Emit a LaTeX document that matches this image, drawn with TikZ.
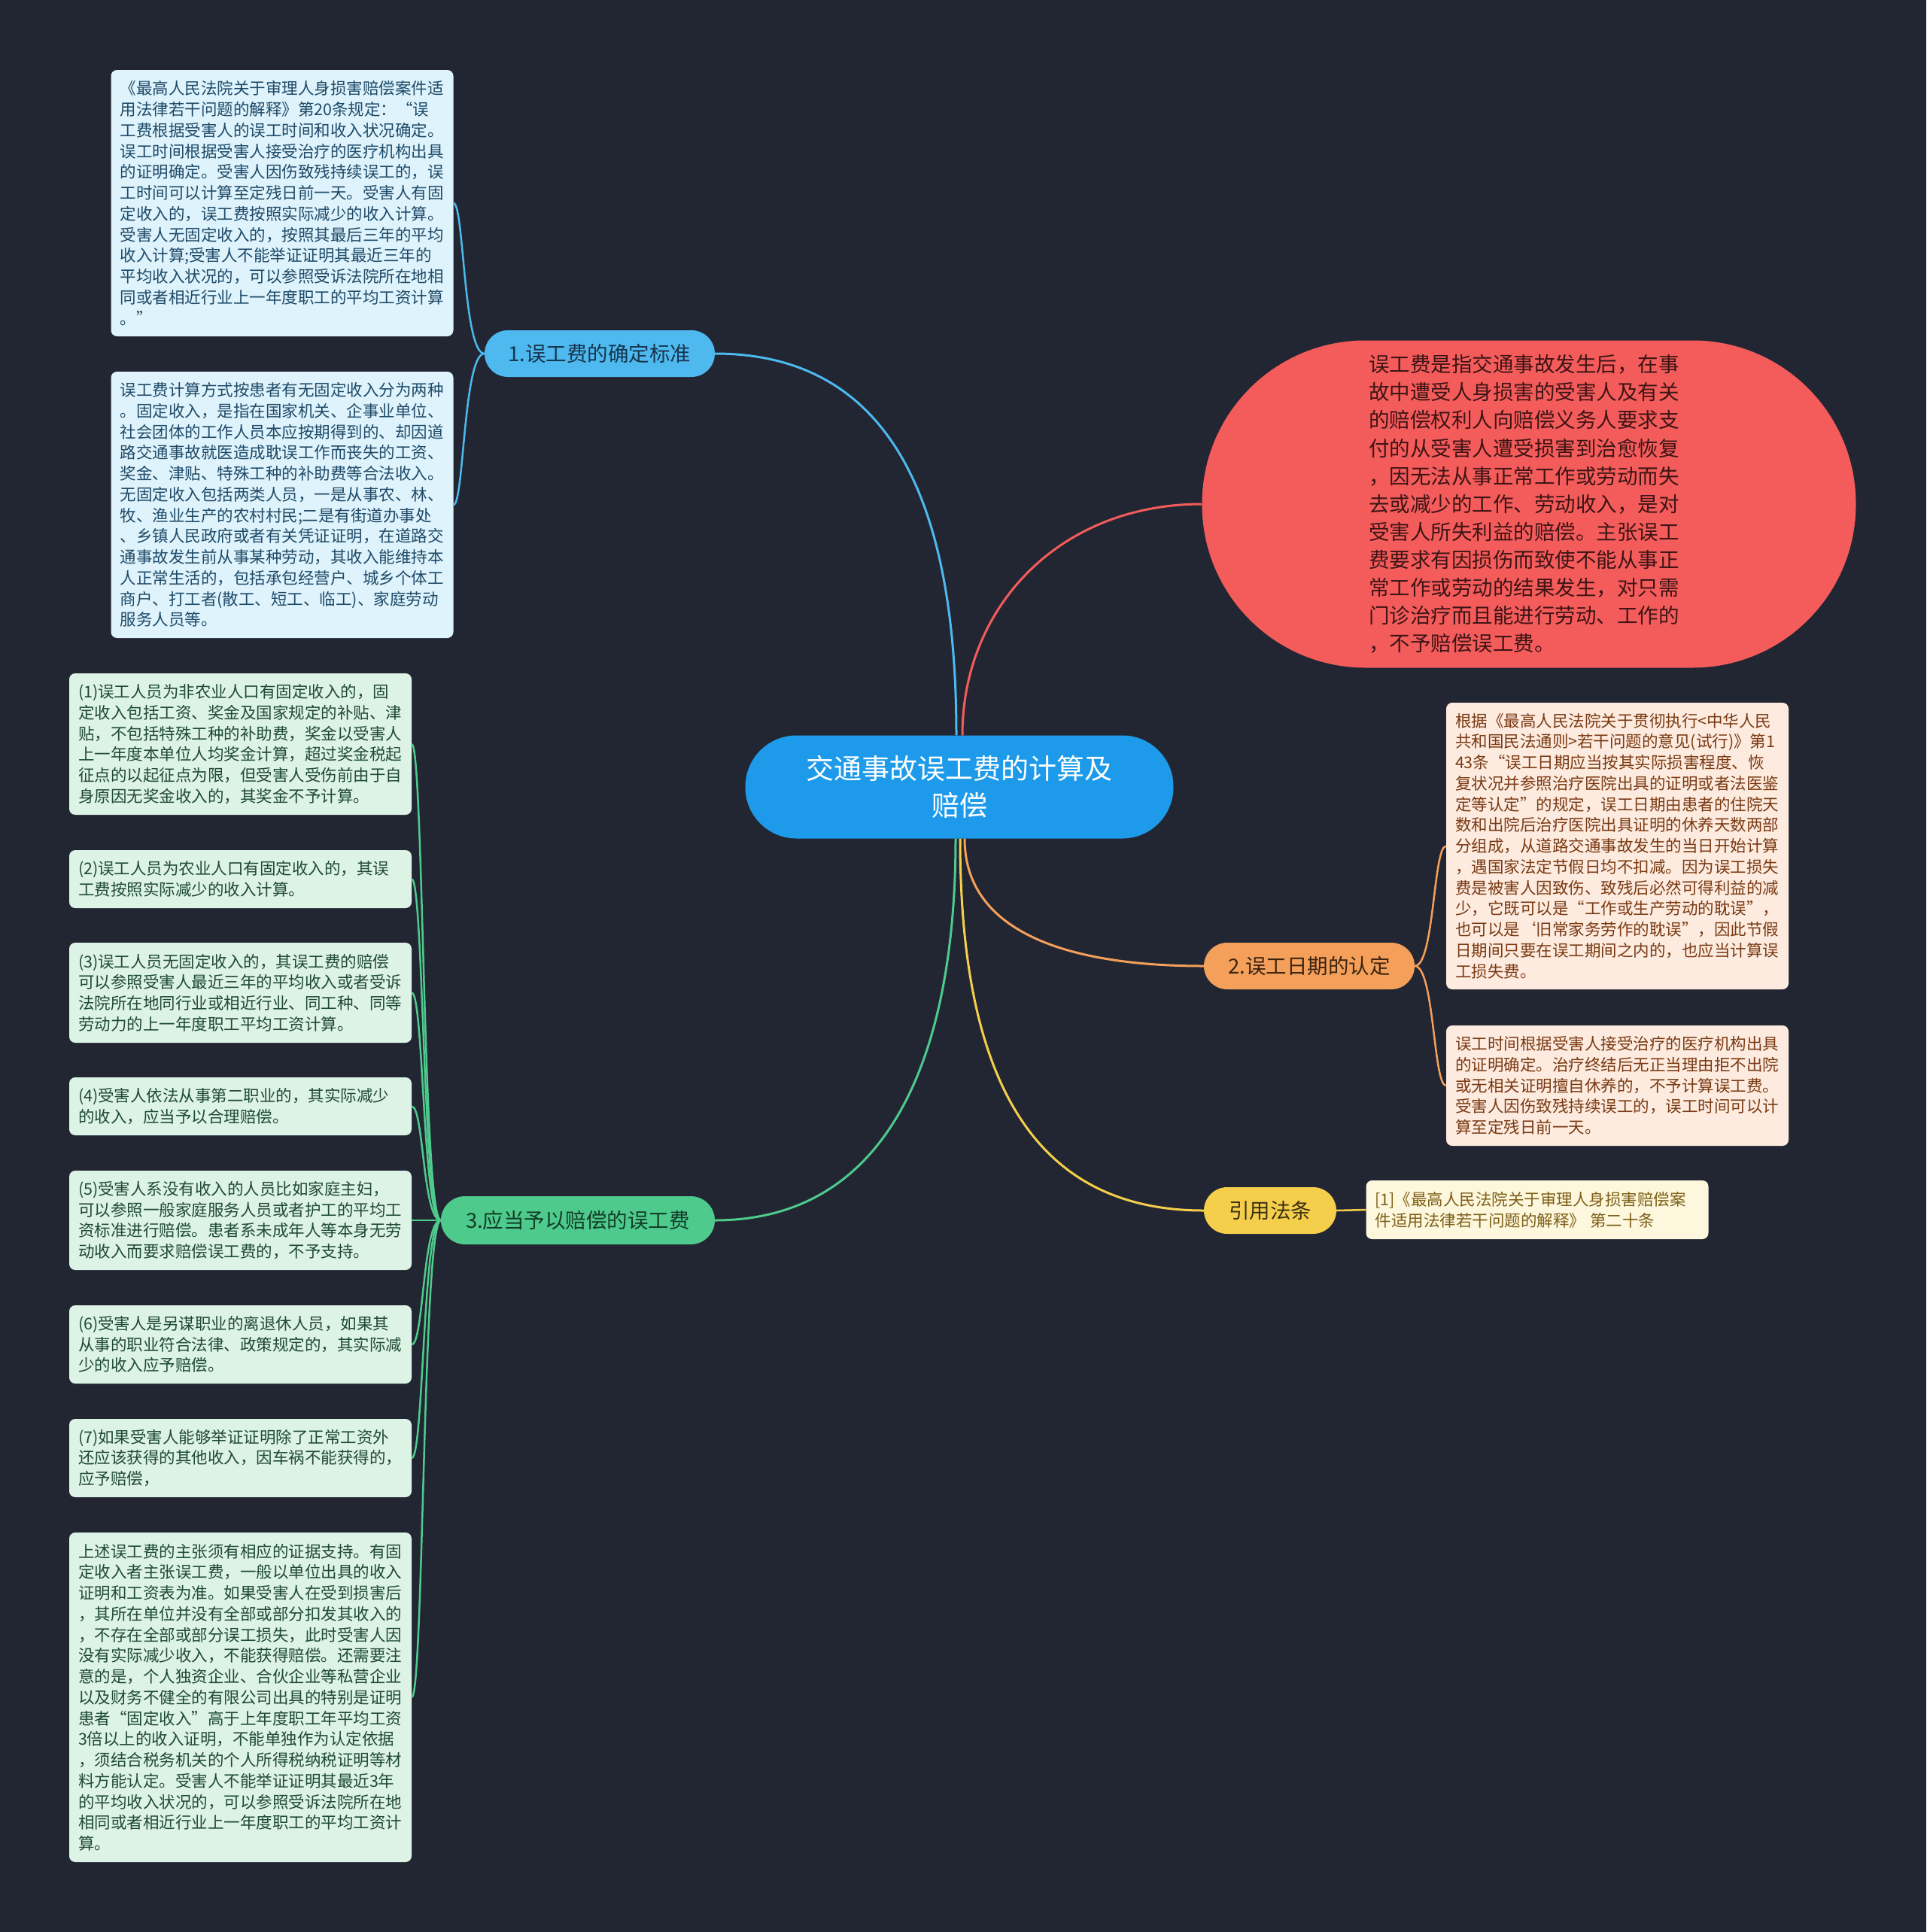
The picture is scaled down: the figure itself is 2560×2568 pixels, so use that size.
\documentclass[tikz,border=0pt]{standalone}
\usepackage{fontspec}
\setmainfont{Noto Sans CJK SC}
\definecolor{bgcol}{HTML}{222632}
\definecolor{ccenter}{HTML}{1D9BEA}
\definecolor{cblue}{HTML}{4DB9EE}
\definecolor{cred}{HTML}{F45C5C}
\definecolor{corange}{HTML}{F4A05A}
\definecolor{cyellow}{HTML}{F5CF4B}
\definecolor{cgreen}{HTML}{4ECA8C}
\definecolor{bbfill}{HTML}{DEF3FC}
\definecolor{bbtext}{HTML}{1E4A68}
\definecolor{gbfill}{HTML}{DDF3E6}
\definecolor{gbtext}{HTML}{1F4A33}
\definecolor{obfill}{HTML}{FDEBE0}
\definecolor{obtext}{HTML}{7A3A12}
\definecolor{ybfill}{HTML}{FDF7DE}
\definecolor{ybtext}{HTML}{7D5F16}
\definecolor{redtext}{HTML}{3E1414}
\definecolor{pbtext}{HTML}{17354F}
\definecolor{pgtext}{HTML}{123D28}
\definecolor{potext}{HTML}{3B2410}
\definecolor{pytext}{HTML}{3B3010}
\tikzset{
  box/.style={rounded corners=8pt, align=left, text width=431pt, inner xsep=12pt, inner ysep=0pt,
    font=\fontsize{21.5pt}{27.75pt}\selectfont, anchor=center},
  bluebox/.style={box, fill=bbfill, text=bbtext},
  greenbox/.style={box, fill=gbfill, text=gbtext},
  orangebox/.style={box, fill=obfill, text=obtext},
  yellowbox/.style={box, fill=ybfill, text=ybtext},
  pill/.style={rounded corners=31pt, inner sep=0pt, minimum height=62pt, align=center,
    font=\fontsize{27.5pt}{33pt}\selectfont},
  mainconn/.style={line width=3pt},
  subconn/.style={line width=2.5pt},
}
\begin{document}
\begin{tikzpicture}[x=1pt,y=-1pt]
\useasboundingbox (0,0) rectangle (2560,2568);
\fill[bgcol] (0,0) rectangle (2560,2568);

% center
\node[rounded corners=68pt, fill=ccenter, text=white, minimum width=569pt, minimum height=137pt,
  inner sep=0pt, align=center, font=\fontsize{37pt}{49pt}\selectfont] (c) at (1275,1046)
  {交通事故误工费的计算及\\赔偿};

% branch pills
\node[pill, fill=cblue, text=pbtext, minimum width=306pt] (p1) at (797,470) {1.误工费的确定标准};
\node[pill, fill=corange, text=potext, minimum width=280pt] (p2) at (1740,1284) {2.误工日期的认定};
\node[pill, fill=cgreen, text=pgtext, minimum width=364pt, minimum height=64pt, rounded corners=32pt] (p3) at (768,1622) {3.应当予以赔偿的误工费};
\node[pill, fill=cyellow, text=pytext, minimum width=176pt] (p4) at (1688,1609) {引用法条};

% red definition node
\node[rounded corners=217pt, fill=cred, text=redtext, minimum width=869pt, minimum height=435pt,
  inner sep=0pt, text width=426pt, align=left, font=\fontsize{27.5pt}{37.1pt}\selectfont] (red) at (2032,670)
  {误工费是指交通事故发生后，在事\\故中遭受人身损害的受害人及有关\\的赔偿权利人向赔偿义务人要求支\\付的从受害人遭受损害到治愈恢复\\，因无法从事正常工作或劳动而失\\去或减少的工作、劳动收入，是对\\受害人所失利益的赔偿。主张误工\\费要求有因损伤而致使不能从事正\\常工作或劳动的结果发生，对只需\\门诊治疗而且能进行劳动、工作的\\，不予赔偿误工费。};

% blue boxes
\node[bluebox, minimum height=354pt] (b1) at (375,270)
  {《最高人民法院关于审理人身损害赔偿案件适\\用法律若干问题的解释》第20条规定：“误\\工费根据受害人的误工时间和收入状况确定。\\误工时间根据受害人接受治疗的医疗机构出具\\的证明确定。受害人因伤致残持续误工的，误\\工时间可以计算至定残日前一天。受害人有固\\定收入的，误工费按照实际减少的收入计算。\\受害人无固定收入的，按照其最后三年的平均\\收入计算;受害人不能举证证明其最近三年的\\平均收入状况的，可以参照受诉法院所在地相\\同或者相近行业上一年度职工的平均工资计算\\。”};
\node[bluebox, minimum height=354pt] (b2) at (375,671)
  {误工费计算方式按患者有无固定收入分为两种\\。固定收入，是指在国家机关、企事业单位、\\社会团体的工作人员本应按期得到的、却因道\\路交通事故就医造成耽误工作而丧失的工资、\\奖金、津贴、特殊工种的补助费等合法收入。\\无固定收入包括两类人员，一是从事农、林、\\牧、渔业生产的农村村民;二是有街道办事处\\、乡镇人民政府或者有关凭证证明，在道路交\\通事故发生前从事某种劳动，其收入能维持本\\人正常生活的，包括承包经营户、城乡个体工\\商户、打工者(散工、短工、临工)、家庭劳动\\服务人员等。};

% green boxes
\node[greenbox, minimum height=188pt] (g1) at (319.5,989)
  {(1)误工人员为非农业人口有固定收入的，固\\定收入包括工资、奖金及国家规定的补贴、津\\贴，不包括特殊工种的补助费，奖金以受害人\\上一年度本单位人均奖金计算，超过奖金税起\\征点的以起征点为限，但受害人受伤前由于自\\身原因无奖金收入的，其奖金不予计算。};
\node[greenbox, minimum height=77pt] (g2) at (319.5,1168.5)
  {(2)误工人员为农业人口有固定收入的，其误\\工费按照实际减少的收入计算。};
\node[greenbox, minimum height=133pt] (g3) at (319.5,1319.5)
  {(3)误工人员无固定收入的，其误工费的赔偿\\可以参照受害人最近三年的平均收入或者受诉\\法院所在地同行业或相近行业、同工种、同等\\劳动力的上一年度职工平均工资计算。};
\node[greenbox, minimum height=77pt] (g4) at (319.5,1470.5)
  {(4)受害人依法从事第二职业的，其实际减少\\的收入，应当予以合理赔偿。};
\node[greenbox, minimum height=132pt] (g5) at (319.5,1622)
  {(5)受害人系没有收入的人员比如家庭主妇，\\可以参照一般家庭服务人员或者护工的平均工\\资标准进行赔偿。患者系未成年人等本身无劳\\动收入而要求赔偿误工费的，不予支持。};
\node[greenbox, minimum height=104pt] (g6) at (319.5,1787)
  {(6)受害人是另谋职业的离退休人员，如果其\\从事的职业符合法律、政策规定的，其实际减\\少的收入应予赔偿。};
\node[greenbox, minimum height=104pt] (g7) at (319.5,1938)
  {(7)如果受害人能够举证证明除了正常工资外\\还应该获得的其他收入，因车祸不能获得的，\\应予赔偿，};
\node[greenbox, minimum height=438pt] (g8) at (319.5,2256)
  {上述误工费的主张须有相应的证据支持。有固\\定收入者主张误工费，一般以单位出具的收入\\证明和工资表为准。如果受害人在受到损害后\\，其所在单位并没有全部或部分扣发其收入的\\，不存在全部或部分误工损失，此时受害人因\\没有实际减少收入，不能获得赔偿。还需要注\\意的是，个人独资企业、合伙企业等私营企业\\以及财务不健全的有限公司出具的特别是证明\\患者“固定收入”高于上年度职工年平均工资\\3倍以上的收入证明，不能单独作为认定依据\\，须结合税务机关的个人所得税纳税证明等材\\料方能认定。受害人不能举证证明其最近3年\\的平均收入状况的，可以参照受诉法院所在地\\相同或者相近行业上一年度职工的平均工资计\\算。};

% orange boxes
\node[orangebox, minimum height=381pt] (oa) at (2149.5,1124.5)
  {根据《最高人民法院关于贯彻执行<中华人民\\共和国民法通则>若干问题的意见(试行)》第1\\43条“误工日期应当按其实际损害程度、恢\\复状况并参照治疗医院出具的证明或者法医鉴\\定等认定”的规定，误工日期由患者的住院天\\数和出院后治疗医院出具证明的休养天数两部\\分组成，从道路交通事故发生的当日开始计算\\，遇国家法定节假日均不扣减。因为误工损失\\费是被害人因致伤、致残后必然可得利益的减\\少，它既可以是“工作或生产劳动的耽误”，\\也可以是‘旧常家务劳作的耽误”，因此节假\\日期间只要在误工期间之内的，也应当计算误\\工损失费。};
\node[orangebox, minimum height=160pt] (ob) at (2149.5,1443)
  {误工时间根据受害人接受治疗的医疗机构出具\\的证明确定。治疗终结后无正当理由拒不出院\\或无相关证明擅自休养的，不予计算误工费。\\受害人因伤致残持续误工的，误工时间可以计\\算至定残日前一天。};

% yellow box
\node[yellowbox, minimum height=78pt] (yb) at (2043,1608)
  {[1]《最高人民法院关于审理人身损害赔偿案\\件适用法律若干问题的解释》\hspace{0.3em}第二十条};

% main connectors
\draw[mainconn, cblue] ([xshift=-4pt]c.north) .. controls +(0,-280) and +(250,0) .. (p1.east);
\draw[mainconn, cred] ([xshift=4pt]c.north) .. controls +(0,-170) and +(-190,0) .. (red.west);
\draw[mainconn, corange] ([xshift=7pt]c.south) .. controls +(0,120) and +(-190,0) .. (p2.west);
\draw[mainconn, cyellow] ([xshift=1pt]c.south) .. controls +(0,330) and +(-220,0) .. (p4.west);
\draw[mainconn, cgreen] ([xshift=-5pt]c.south) .. controls +(0,290) and +(230,0) .. (p3.east);

% sub connectors
\foreach \b in {b1,b2}
  \draw[subconn, cblue] (p1.west) .. controls +(-28,0) and +(14,0) .. (\b.east);
\foreach \b in {g1,g2,g3,g4,g5,g6,g7,g8}
  \draw[subconn, cgreen] (p3.west) .. controls +(-24,0) and +(16,0) .. (\b.east);
\foreach \b in {oa,ob}
  \draw[subconn, corange] (p2.east) .. controls +(26,0) and +(-17,0) .. (\b.west);
\draw[subconn, cyellow] (p4.east) -- (yb.west);
\end{tikzpicture}
\end{document}
